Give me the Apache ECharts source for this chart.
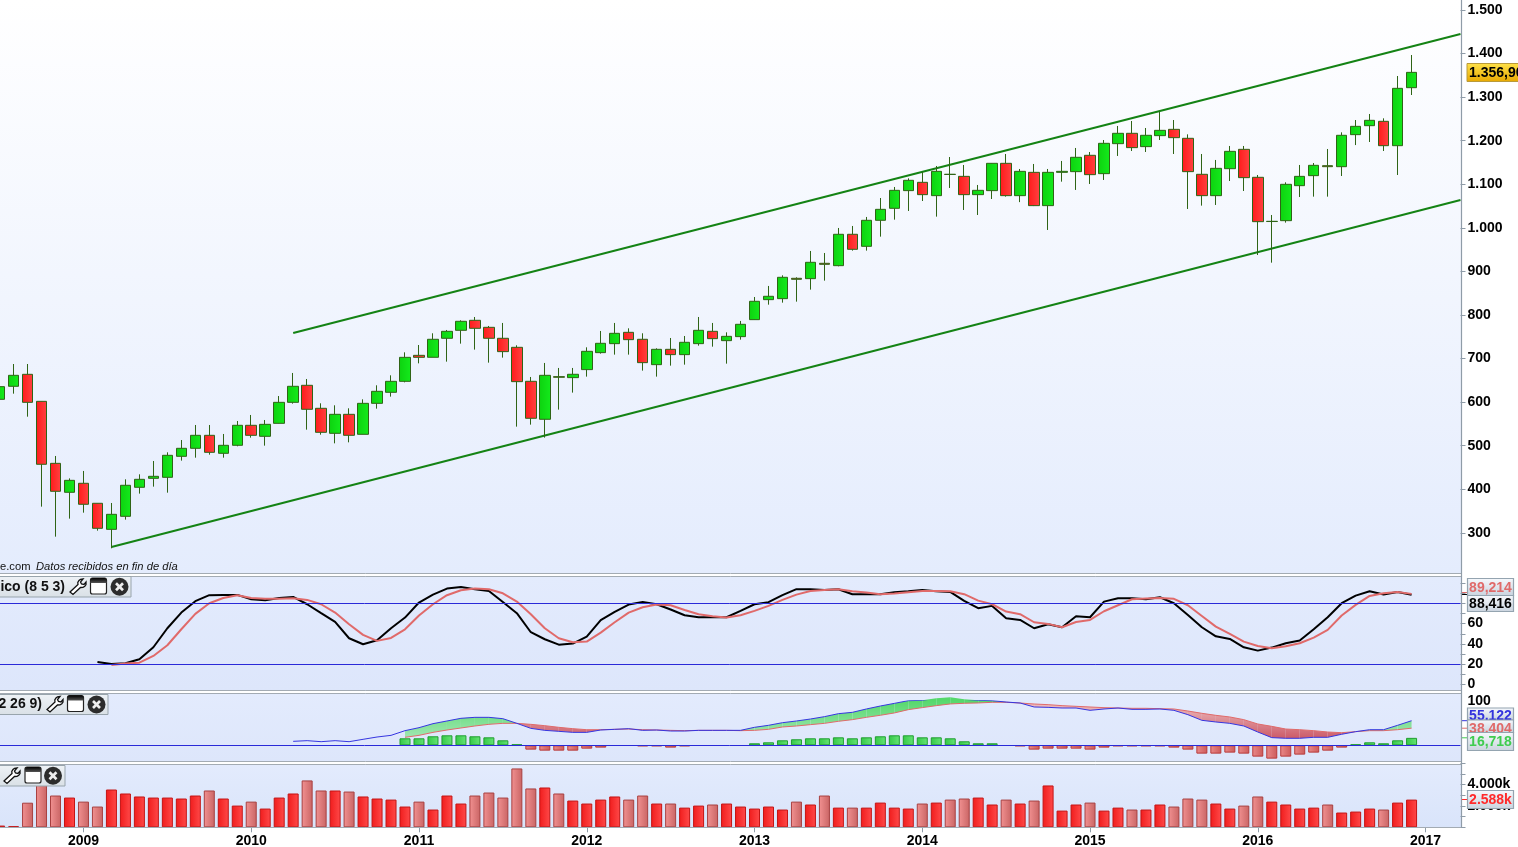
<!DOCTYPE html>
<html><head><meta charset="utf-8">
<style>html,body{margin:0;padding:0;background:#fff;overflow:hidden}#c{width:1518px;height:847px}</style>
<script src="https://cdn.jsdelivr.net/npm/echarts@6/dist/echarts.min.js"></script>
</head><body><div id="c"></div>
<script>
const opens=[606.4,636.3,663.8,601.8,459.5,393,413.7,367.8,308,337.9,
404.5,425.1,427.4,475.6,494,523.8,482.5,500.9,546.8,521.5,
551.3,599.5,638.6,585.8,528.4,572,526.1,597.2,622.5,647.7,
707.4,702.9,746.5,764.8,787.8,771.7,746.5,725.8,647.8,560.6,
658.5,656.2,674.6,713.6,734.2,760.2,744.2,686,721.2,709,
734.2,762.5,741.1,750.3,789.3,835.2,837.5,884.2,883.4,918.6,
913.2,985.2,957.6,1017.3,1044.8,1085.4,1104.5,1073.9,1123,1118.2,
1076.2,1085.4,1148.1,1073.9,1127.4,1051,1127.4,1129,1166.5,1124.4,
1193.2,1217,1186.4,1211.6,1226.1,1205.5,1122.9,1073.9,1135.8,1180.2,
1116,1014.5,1016.5,1096.8,1119.8,1142.7,1140.4,1213.9,1234.5,1244.5,
1188.6,1321.7];
const closes=[635.5,661.5,599.5,457.3,395.3,420.5,365.5,310.4,342.5,409.1,
422.8,429.7,477.9,494,523.8,484.8,500.9,546.8,523.8,549,
599.5,636.3,583.5,530.7,572,523.8,597.2,624.8,647.7,702.8,
702.8,744.2,762.5,785.5,769.4,746.5,715.9,647,562.9,661.5,
657,663.9,716.6,735,757.9,743.4,690.6,721.2,709,737.3,
764.8,745.7,751,778.6,831.4,842.9,886.5,881.9,920.9,916.3,
985.2,950.7,1017.3,1042.5,1086.1,1109.1,1076.2,1129.7,1122.5,1076.2,
1086.1,1148.1,1073.9,1129.7,1051,1127.4,1129.7,1161.9,1122.1,1194,
1217,1184.1,1212.4,1223.8,1207,1129,1073.9,1136.6,1175.6,1115.2,
1014.2,1015,1099.9,1118.2,1143.5,1140.4,1212.4,1233,1246.8,1188.6,
1320.2,1356.9];
const lows=[600,619.4,566.6,360.1,291.2,332.6,346.3,305,264.5,330.3,
390,406,392.2,465.7,472.5,479.4,472.5,498.6,518.5,500.1,
551,596.5,536.8,525.3,505.4,507.7,526,585,612.6,645.4,
689,702.9,692.9,734.2,720.5,690.6,702.1,543.7,548.3,518.5,
582.8,621.8,658.5,711.3,709,709,672.3,658.5,683.7,686,
729.6,727.3,688.3,743.4,789,823.7,828.3,830.6,858.2,878.8,
911.7,947.7,947.7,979.8,1018.8,1038.7,1061.6,1025.7,1091.5,1041,
1029.5,1066.2,1071.6,1059,1050,995.1,1106,1087,1100.7,1109.9,
1165,1176.4,1174.1,1201.6,1169.5,1043.3,1051,1052.5,1107.5,1084.6,
937.7,920.1,1012,1070.8,1071.6,1071.6,1119,1190,1197,1176.4,
1121.3,1304.9];
const highs=[640,687.5,687.5,602,476.4,425,442,368,368.5,422.8,
434.3,464.9,484.8,513,547.5,547.5,526.9,556.7,570.5,559,
614,666.9,653.1,597.3,592.7,585.8,606.4,638.6,661.5,714.3,
731.1,758,765.6,787.8,795.4,774.8,781.7,730.4,657.7,689.9,
678.4,678.4,725.8,763.3,781.7,769.4,758,723.5,747.2,751.8,
795.4,781.7,760.2,786.3,841.3,866.6,891,886.5,946.9,942.3,
999.7,1004.3,1025,1068.5,1093.8,1113.7,1128.2,1142,1162.6,1144.3,
1098.4,1148.5,1169.5,1135.1,1146.6,1135.1,1153.5,1183.3,1174.1,1201.6,
1233.8,1245.2,1229.2,1266.7,1247.5,1214.6,1169.5,1155.8,1187.9,1187.9,
1121.3,1029.5,1104.5,1144.3,1148.8,1181,1219.2,1247.5,1261.3,1251.4,
1348.5,1396.7];
const upperChannel=[[21,758.7],[104.5,1445]];
const lowerChannel=[[8,267.5],[104.5,1064]];
const stochK=[null,null,null,null,null,null,null,22.3,20.3,21,
24.9,36.7,55.4,70.8,82,87.9,88.2,88.2,83.9,83,
85.2,86.2,79,70.2,61.6,45.6,39.7,43.6,55.4,65.9,
80.7,88.5,94.4,96,93.8,92.1,81.3,70.2,51.5,44.6,
39.3,40.3,47.2,63.3,71.5,78.7,81.3,79,73.8,68.2,
66.2,66.2,66.2,72.5,79,81,87.9,93.8,93.8,93.1,
93.8,88.9,88.9,88.9,90.8,91.8,93.1,91.8,91.1,82.3,
75.1,77.4,65.2,63.6,55.4,59.3,56.4,67.2,66.2,81.6,
84.9,84.9,83.9,85.9,80,68.5,56.4,47.5,44.9,36.7,
33.4,36.4,40.7,43.3,54.4,66.2,80,87.5,91.8,88.5,
91.1,88.416];
const stochD=[null,null,null,null,null,null,null,null,19.3,20.7,
21.6,28.2,38.7,54.4,69.5,80,85.2,87.9,85.2,84.3,
84.3,84.9,83.3,79,70.8,59.3,48.9,43,45.9,54.4,
67.9,79,87.9,92.8,94.4,93.8,89.8,81.6,69.2,55.4,
45.6,41.6,42.3,51.1,61.3,70.8,76.1,78.7,78,73.4,
69.2,67.2,65.9,68.2,72.5,77.4,83.3,88.5,92.1,93.1,
93.8,91.8,90.5,88.9,89.5,90.8,92.1,92.1,91.8,88.9,
82.6,79,71.8,69.2,61.3,59.7,56.4,61.6,63.6,72.1,
78,83.9,84.6,85.2,84.3,78,67.5,57,49.8,42.3,
38,35.7,37.7,40.7,46.2,53.8,67.9,78.4,87.2,89.8,
91.1,89.214];
const macdLine=[null,null,null,null,null,null,null,null,null,null,
null,null,null,null,null,null,null,null,null,null,
null,8.9,10.4,8.1,10.4,8.1,13.4,18.6,22.3,32.8,
39.5,48.5,54.5,60.5,62.7,62.7,59.7,49.2,38,33.5,
31.3,29,29,34.3,35.8,37.3,33.5,34.3,32,32,
33.5,33.5,33.5,33.5,40.3,44.8,50.7,54.5,58.9,64.2,
70.9,73.9,81.4,88.1,94,100,100.8,105.3,107.5,103,
100.8,100,97,94.8,85.9,85.1,83.6,83.6,78.4,81.4,
83.6,80.6,80.6,81.4,78.4,68.7,56,52.3,49.2,43.3,
29.8,17.2,15.7,15.7,17.9,17.9,24.7,30.6,35,35,
44.8,55.122];
const signalLine=[null,null,null,null,null,null,null,null,null,null,
null,null,null,null,null,null,null,null,null,null,
null,null,null,null,null,null,null,null,null,17.9,
22.3,29,34.3,38.8,43.3,47,49.2,49.2,47,44,
40.3,37.3,35,35,35.8,36.5,35,34.3,33.5,32.8,
33.5,33.5,33.5,32.8,33.5,35.8,41.1,43.3,46.3,49.2,
53.8,57.5,62.7,67.3,72.5,79.9,84.5,88.9,92.7,94.2,
94.9,96.4,96.4,94.8,92.6,91.1,88.9,87.4,85.9,84.4,
83.6,82.9,82.9,82.1,81.4,76.9,71.7,67.2,63.5,57.5,
47.8,42.5,36.5,35,32.8,29.8,28.3,30.6,32.8,32.8,
35,38.404];
const histogram=[null,null,null,null,null,null,null,null,null,null,
null,null,null,null,null,null,null,null,null,null,
null,null,null,null,null,null,null,null,null,15.7,
15.7,20.2,22.4,22.4,20.2,17.9,11.2,2.2,-9.7,-12,
-12,-12,-7.5,-5.2,null,null,-2.2,-2.2,-5.2,-2.2,
null,null,null,null,4.5,6.7,11.2,13.5,15.7,15.7,
17.9,15.7,17.9,20.2,22.4,22.4,17.9,17.9,15.7,9,
4.5,4.5,null,-2.2,-9.7,-7.5,-7.5,-7.5,-9.7,-5.2,
-2.2,-2.2,-2.2,-2.2,-5.2,-9.7,-18.7,-18.7,-16.4,-18.7,
-25.4,-29.9,-25.4,-20.9,-16.4,-12,-5.2,2.2,6.7,4.5,
11.2,16.718];
const volumeK=[0.16,0.1,2.3,3.95,2.97,2.78,2.4,1.94,3.53,3.16,
2.88,2.78,2.78,2.69,2.97,3.44,2.69,2.03,2.4,1.75,
2.78,3.16,4.38,3.44,3.44,3.34,2.88,2.69,2.59,1.94,
2.4,1.66,2.97,2.22,2.97,3.25,2.78,5.5,3.63,3.72,
3.16,2.5,2.22,2.59,2.88,2.59,2.97,2.22,2.22,1.84,
2.03,2.13,2.22,1.94,1.75,1.94,1.66,2.4,2.13,2.97,
1.84,1.84,1.84,2.31,1.84,1.75,2.22,2.31,2.59,2.69,
2.78,2.13,2.59,2.22,2.5,3.91,1.56,2.13,2.31,1.56,
1.84,1.66,1.66,2.13,1.94,2.69,2.59,2.22,1.75,2.03,
2.88,2.4,2.13,1.75,1.84,2.13,1.38,1.47,1.75,1.66,
2.31,2.588];
const priceTicks=[300,400,500,600,700,800,900,1000,1100,1200,1300,1400,1500];
const stochLabels=[0,20,40,60];
const volumeLabels=[2,4];

const months=[];
for(let i=0,y=2008,m=7;i<105;i++){months.push(y+'-'+String(m).padStart(2,'0'));m++;if(m>12){m=1;y++;}}

const hgrad=(a,b)=>({type:'linear',x:0,y:0,x2:1,y2:0,colorStops:[{offset:0,color:a},{offset:1,color:b}]});
const vgrad=(a,b)=>({type:'linear',x:0,y:0,x2:0,y2:1,colorStops:[{offset:0,color:a},{offset:1,color:b}]});
const AXC='#8f9ca8', FONT='"Liberation Sans",Arial,sans-serif';
const GL=-7.4, GW=1467.9;
const grids=[{top:10,h:566.4},{top:582.9,h:101.7},{top:700.7,h:62.44},{top:763.1,h:64.2}];

const dots=v=>{const s=String(v);return s.length>3?s.slice(0,-3)+'.'+s.slice(-3):s;};
const lab={color:'#000',fontFamily:FONT,fontSize:14,fontWeight:'bold',margin:7};
function yAx(i,o){return Object.assign({type:'value',gridIndex:i,position:'right',scale:false,splitLine:{show:false},
 axisLine:{show:false,onZero:false},axisTick:{show:true,length:5,lineStyle:{color:AXC}}},o);}
function xAx(i,show){return {type:'category',gridIndex:i,data:months,boundaryGap:true,show:show,
 axisLine:{show:false,onZero:false},splitLine:{show:false},
 axisTick:{show:show,length:5,alignWithLabel:true,interval:(k,v)=>v.endsWith('-01'),lineStyle:{color:AXC}},
 axisLabel:{show:show,interval:(k,v)=>v.endsWith('-01'),formatter:v=>v.slice(0,4),color:'#000',fontFamily:FONT,fontSize:14,fontWeight:'bold',margin:7}};}

function panel(x,y,w,h,a,b){return {type:'rect',z:-10,silent:true,shape:{x,y,width:w,height:h},style:{fill:vgrad(a,b)}};}
function hl(x1,x2,y,c){return {type:'line',z:50,silent:true,shape:{x1,y1:y,x2,y2:y},style:{stroke:c||'#a3abb3',lineWidth:1}};}
const WRENCH=[[1,14],[9,6.5],[8.8,4.5],[10,2.5],[11.5,1.4],[14,1],[11.5,4],[12.5,6],[15,6.5],[17,4],[17,6.5],[15.8,8.3],[14,9.3],[11.5,9.5],[4,16.5]];
function toolbar(right,top,h,txt,wx,wy,boxX,cx){
 const cy=top+h/2+0.5, out=[
 {type:'rect',z:60,silent:true,shape:{x:-2,y:top+0.5,width:right+2,height:h},style:{fill:vgrad('#eef2f6','#d9e0e6'),stroke:'#98a4ac',lineWidth:1}},
 {type:'polygon',z:61,silent:true,shape:{points:WRENCH.map(p=>[p[0]+wx,p[1]+wy])},style:{fill:'#fff',stroke:'#111',lineWidth:1.3}},
 {type:'rect',z:61,silent:true,shape:{x:boxX,y:wy,width:16,height:16,r:2},style:{fill:'#fff',stroke:'#222',lineWidth:1.2}},
 {type:'rect',z:62,silent:true,shape:{x:boxX,y:wy,width:16,height:5,r:[2,2,0,0]},style:{fill:vgrad('#000','#555')}},
 {type:'circle',z:61,silent:true,shape:{cx,cy,r:9},style:{fill:'#2c2c2c'}},
 {type:'line',z:62,silent:true,shape:{x1:cx-3.5,y1:cy-3.5,x2:cx+3.5,y2:cy+3.5},style:{stroke:'#eee',lineWidth:2.6}},
 {type:'line',z:62,silent:true,shape:{x1:cx+3.5,y1:cy-3.5,x2:cx-3.5,y2:cy+3.5},style:{stroke:'#eee',lineWidth:2.6}}];
 if(txt)out.push({type:'text',z:61,silent:true,x:wx-4,y:cy,style:{text:txt,align:'right',verticalAlign:'middle',fill:'#111',font:'bold 14px '+FONT}});
 return out;
}
let tz=70;
function tag(top,h,txt,col,tickY,textY){tz+=2;return [
 {type:'rect',z:tz,silent:true,shape:{x:1467.5,y:top+.5,width:46,height:h},style:{fill:vgrad('#f7f9fd','#c9d3de'),stroke:'#94a4b0',lineWidth:1.2}},
 {type:'text',z:tz+1,silent:true,x:1490.5,y:textY+0.5,style:{text:txt,align:'center',verticalAlign:'middle',fill:col,font:'bold 14px '+FONT}},
 {type:'line',z:40,silent:true,shape:{x1:1462,y1:tickY,x2:1467,y2:tickY},style:{stroke:col,lineWidth:1}}];}

const graphics=[
 panel(0,0,1461,573,'#ffffff','#e4ecfd'),
 panel(0,576,1461,115,'#e3ebfd','#dde6fb'),
 panel(0,693,1461,68,'#e3ebfd','#dde6fb'),
 panel(0,764,1461,63,'#e3ebfd','#d9e4fa'),
 hl(0,1461,573.5),hl(0,1461,576.5),hl(0,1461,690.5),hl(0,1461,693.5),hl(0,1461,761.5),hl(0,1461,764.5),hl(0,1461,827.5),
 {type:'line',z:50,silent:true,shape:{x1:1461.5,y1:0,x2:1461.5,y2:828},style:{stroke:AXC,lineWidth:1.2}},
 {type:'text',z:30,silent:true,x:0,y:567,style:{text:'e.com',verticalAlign:'middle',fill:'#111',font:'11.2px '+FONT}},
 {type:'text',z:30,silent:true,x:36,y:567,style:{text:'Datos recibidos en fin de día',verticalAlign:'middle',fill:'#111',font:'italic 11.2px '+FONT}},
 ...toolbar(131,576,20.5,'ico (8 5 3)',69,578,90.5,119.5),
 ...toolbar(108,694,20,'2 26 9)',46,695.5,67.5,96.5),
 ...toolbar(65,765,20.5,'',3,767,25,53),
 ...tag(578,17,'89,214','#e06a6a',592.5,588),
 ...tag(595,16,'88,416','#000',594.5,603.3),
 ...tag(707.5,12,'55,122','#3333dd',720.7,716),
 ...tag(719.5,12.5,'38,404','#e06a6a',728.2,729),
 ...tag(732,18,'16,718','#3fcc4f',737.8,742),
 ...tag(790,18,'2.588k','#ff2a2a',799.5,800),
 {type:'rect',z:90,silent:true,shape:{x:1467,y:63.5,width:55,height:18},style:{fill:vgrad('#ffe24a','#e8a800'),stroke:'#b99a3a',lineWidth:1}},
 {type:'text',z:91,silent:true,x:1469,y:73,style:{text:'1.356,90',verticalAlign:'middle',fill:'#000',font:'bold 14px '+FONT}}
];

const fillData=[];
for(let i=0;i<macdLine.length-1;i++){
 if(macdLine[i]!=null&&signalLine[i]!=null&&macdLine[i+1]!=null&&signalLine[i+1]!=null)
  fillData.push([i,macdLine[i],signalLine[i],macdLine[i+1],signalLine[i+1]]);
}
const gGreen={type:'linear',global:true,x:0,y:700,x2:0,y2:735,colorStops:[{offset:0,color:'#55d86b'},{offset:1,color:'#9be6ae'}]};
const gRed={type:'linear',global:true,x:0,y:705,x2:0,y2:742,colorStops:[{offset:0,color:'#ecb9bb'},{offset:1,color:'#c8505f'}]};
function renderFill(params,api){
 const i=api.value(0),m0=api.value(1),s0=api.value(2),m1=api.value(3),s1=api.value(4);
 const p=(x,y)=>api.coord([x,y]);
 const d0=m0-s0,d1=m1-s1,kids=[];
 const poly=(pts,up)=>kids.push({type:'polygon',silent:true,shape:{points:pts},style:{fill:up?gGreen:gRed}});
 if(d0*d1<0){
  const t=d0/(d0-d1),cx=i+t,cy=m0+t*(m1-m0);
  poly([p(i,m0),p(cx,cy),p(i,s0)],d0>0);
  poly([p(cx,cy),p(i+1,m1),p(i+1,s1)],d1>0);
 }else poly([p(i,m0),p(i+1,m1),p(i+1,s1),p(i,s0)],d0+d1>=0);
 return {type:'group',children:kids};
}

const candleData=opens.map((o,i)=>[o,closes[i],lows[i],highs[i]]);
const volItems=volumeK.map((v,i)=>({value:v,itemStyle:closes[i]>=opens[i]
 ?{color:hgrad('#f01c1c','#ff4a4a'),borderColor:'#c41414',borderWidth:1}
 :{color:hgrad('#f29292','#c96464'),borderColor:'#a84040',borderWidth:1}}));
const histItems=histogram.map(v=>v==null?null:({value:v,itemStyle:v>=0
 ?{color:hgrad('#35c846','#66e476'),borderColor:'#1f9e2f',borderWidth:1}
 :{color:hgrad('#ea8a8a','#cc5a5a'),borderColor:'#b83a3a',borderWidth:1}}));

const zeroLine=(vals)=>({silent:true,symbol:'none',animation:false,label:{show:false},lineStyle:{color:'#2a2ad8',width:1,type:'solid'},data:vals.map(v=>({yAxis:v}))});

const chart=echarts.init(document.getElementById('c'),null,{renderer:'canvas',width:1518,height:847});
chart.setOption({
 animation:false,
 backgroundColor:'#ffffff',
 graphic:{elements:graphics},
 grid:grids.map(g=>({left:GL,width:GW,top:g.top,height:g.h,containLabel:false,show:false,outerBoundsMode:'none'})),
 xAxis:[xAx(0,false),xAx(1,false),xAx(2,false),xAx(3,true),
  {type:'value',gridIndex:0,min:-0.5,max:104.5,show:false}],
 yAxis:[
  yAx(0,{min:200,max:1500,interval:100,axisTick:{show:true,length:5,customValues:priceTicks,lineStyle:{color:AXC}},
   axisLabel:Object.assign({},lab,{customValues:priceTicks,formatter:v=>dots(v)})}),
  yAx(1,{min:0,max:100,interval:10,axisLabel:Object.assign({},lab,{customValues:stochLabels,formatter:v=>String(v)})}),
  yAx(2,{min:-40,max:100,interval:20,axisTick:{show:false},axisLabel:Object.assign({},lab,{customValues:[100],formatter:v=>String(v)})}),
  yAx(3,{min:0,max:6,interval:1,axisLabel:Object.assign({},lab,{customValues:volumeLabels,formatter:v=>v+'.000k'})})
 ],
 series:[
  {type:'candlestick',xAxisIndex:0,yAxisIndex:0,data:candleData,barWidth:11,clip:false,z:3,
   itemStyle:{color:hgrad('#0dd20f','#14ea1c'),color0:hgrad('#ff1a1a','#ff4242'),borderColor:'#2f6416',borderColor0:'#2f6416',borderWidth:1}},
  {type:'line',xAxisIndex:4,yAxisIndex:0,data:upperChannel,showSymbol:false,z:2,lineStyle:{color:'#148314',width:2}},
  {type:'line',xAxisIndex:4,yAxisIndex:0,data:lowerChannel,showSymbol:false,z:2,lineStyle:{color:'#148314',width:2}},
  {type:'line',xAxisIndex:1,yAxisIndex:1,data:stochK,showSymbol:false,z:3,lineStyle:{color:'#000',width:2},markLine:zeroLine([80,20])},
  {type:'line',xAxisIndex:1,yAxisIndex:1,data:stochD,showSymbol:false,z:4,lineStyle:{color:'#e06a6a',width:2}},
  {type:'custom',xAxisIndex:2,yAxisIndex:2,data:fillData,renderItem:renderFill,encode:{x:0,y:[1,2,3,4]},z:2,silent:true},
  {type:'bar',xAxisIndex:2,yAxisIndex:2,data:histItems,barWidth:11,z:3,markLine:zeroLine([0])},
  {type:'line',xAxisIndex:2,yAxisIndex:2,data:signalLine,showSymbol:false,z:4,lineStyle:{color:'#e06a6a',width:1}},
  {type:'line',xAxisIndex:2,yAxisIndex:2,data:macdLine,showSymbol:false,z:5,lineStyle:{color:'#3535e0',width:1}},
  {type:'bar',xAxisIndex:3,yAxisIndex:3,data:volItems,barWidth:11,z:3}
 ]
});
</script></body></html>
